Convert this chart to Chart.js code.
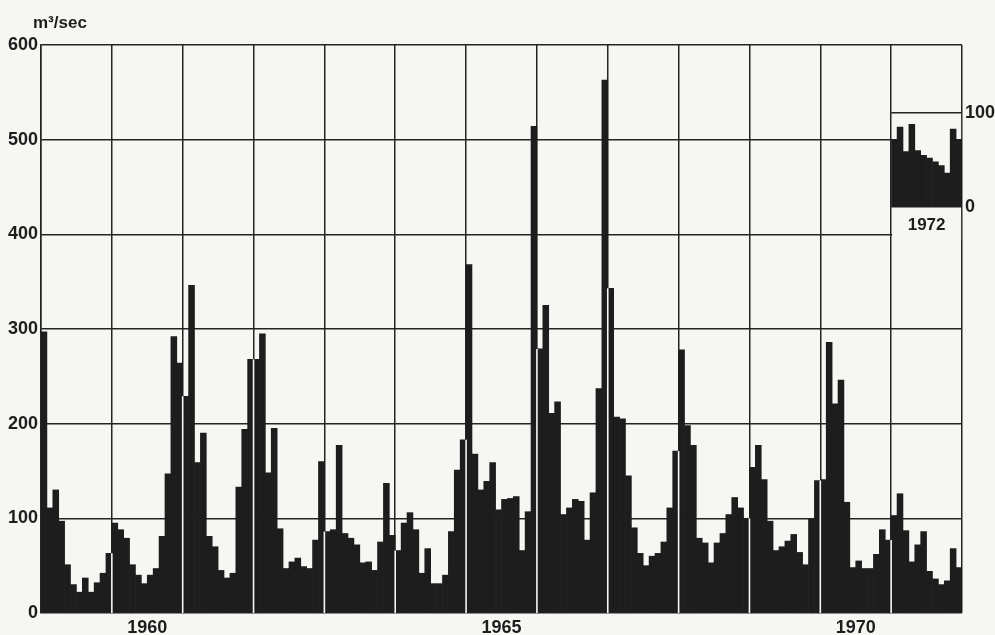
<!DOCTYPE html>
<html><head><meta charset="utf-8">
<script src="https://cdn.jsdelivr.net/npm/chart.js@4.4.1/dist/chart.umd.min.js"></script>
<style>
html,body{margin:0;padding:0;background:#f6f6f3;}
#wrap{position:relative;width:995px;height:635px;overflow:hidden;background:#f6f6f3;}
#main{position:absolute;left:0;top:0;}
#inset{position:absolute;left:880px;top:95px;}
</style></head><body>
<div id="wrap"><canvas id="main" width="995" height="635"></canvas><canvas id="inset" width="115" height="150"></canvas></div>
<script>
// ---- data (monthly mean discharge, m3/sec) ----
const years = [1959,1960,1961,1962,1963,1964,1965,1966,1967,1968,1969,1970,1971];
const monthNames = ['Jan','Feb','Mar','Apr','May','Jun','Jul','Aug','Sep','Oct','Nov','Dec'];
const q1959 = [297,111,130,97,51,30,22,37,22,32,42,63];
const q1960 = [95,88,79,51,40,31,40,47,81,147,292,264];
const q1961 = [229,346,159,190,81,70,45,37,42,133,194,268];
const q1962 = [268,295,148,195,89,47,54,58,49,47,77,160];
const q1963 = [86,88,177,84,79,72,53,54,45,75,137,82];
const q1964 = [66,95,106,88,42,68,31,31,40,86,151,183];
const q1965 = [368,168,130,139,159,109,120,121,123,66,107,514];
const q1966 = [279,325,211,223,104,111,120,118,77,127,237,563];
const q1967 = [343,207,205,145,90,63,50,60,63,75,111,171];
const q1968 = [278,198,177,79,74,53,74,84,104,122,111,100];
const q1969 = [154,177,141,97,66,70,76,83,64,51,99,140];
const q1970 = [141,286,221,246,117,48,55,47,47,62,88,77];
const q1971 = [103,126,87,54,72,86,44,36,30,34,68,48];
const insetYear = '1972';
const q1972 = [72,85,59,88,60,55,52,48,44,36,83,72];
const yMax = 600, yStep = 100;
const insetMax = 100;
const yearTickLabels = ['1960','1965','1970'];
const unitLabel = 'm\u00b3/sec';

// ---- styling ----
const BG = '#f6f6f3', INK = '#1d1d1d', GRID = '#242424';
const FONT = {family:"'Liberation Sans', Arial, sans-serif", size:18, weight:'bold'};

const values = [].concat(q1959,q1960,q1961,q1962,q1963,q1964,q1965,q1966,q1967,q1968,q1969,q1970,q1971);
const labels = [];
years.forEach(y => monthNames.forEach(m => labels.push(m + ' ' + y)));

const yearGapPlugin = {
  id: 'yearGaps',
  afterDatasetsDraw(chart) {
    const meta = chart.getDatasetMeta(0);
    const ys = chart.scales.y, ca = chart.chartArea, ctx = chart.ctx;
    ctx.save();
    ctx.strokeStyle = BG; ctx.lineWidth = 1.6;
    for (let i = 12; i < values.length; i += 12) {
      const x = (meta.data[i-1].x + meta.data[i].x) / 2;
      const top = ys.getPixelForValue(Math.min(values[i-1], values[i]));
      ctx.beginPath(); ctx.moveTo(x, ca.bottom); ctx.lineTo(x, top); ctx.stroke();
    }
    ctx.restore();
  },
  afterDraw(chart) {
    const ctx = chart.ctx;
    ctx.save();
    ctx.fillStyle = INK;
    ctx.font = "bold 17px 'Liberation Sans', Arial, sans-serif";
    ctx.textBaseline = 'alphabetic'; ctx.textAlign = 'left';
    ctx.fillText(unitLabel, 33, 28);
    ctx.restore();
  }
};

new Chart(document.getElementById('main'), {
  type: 'bar',
  data: { labels: labels, datasets: [{ data: values, backgroundColor: INK, borderWidth: 0, barPercentage: 1, categoryPercentage: 1 }] },
  options: {
    responsive: false, animation: false, devicePixelRatio: 1,
    layout: { padding: { top: 45, right: 33, left: 0, bottom: 0 } },
    plugins: { legend: { display: false }, tooltip: { enabled: false } },
    scales: {
      x: {
        type: 'category', offset: true,
        grid: { offset: true, drawTicks: false, lineWidth: 1.5,
          color: c => (c.type !== 'tick' || c.index % 12 === 0) ? GRID : 'rgba(0,0,0,0)' },
        border: { display: false },
        ticks: { display: false },
        afterFit: ax => { ax.height = 0; }
      },
      x2: {
        type: 'linear', position: 'bottom', min: 0, max: values.length, offset: false,
        grid: { display: false, drawTicks: false, offset: false }, border: { display: false },
        afterBuildTicks: ax => { ax.ticks = yearTickLabels.map(t => ({ value: (Number(t) - years[0]) * 12 + 6 })); },
        ticks: { autoSkip: false, maxRotation: 0, padding: 4, color: INK, font: FONT,
          callback: v => String(years[0] + (v - 6) / 12) },
        afterFit: ax => { ax.height = 22; }
      },
      y: {
        min: 0, max: yMax,
        ticks: { stepSize: yStep, padding: 3, color: INK, font: FONT },
        grid: { color: GRID, lineWidth: 1.5, drawTicks: false },
        border: { display: true, color: GRID, width: 1.5 },
        afterFit: ax => { ax.width = 41; }
      }
    }
  },
  plugins: [yearGapPlugin]
});

const insetPlugin = {
  id: 'insetBox',
  beforeDraw(chart) {
    const ctx = chart.ctx, ca = chart.chartArea;
    ctx.save(); ctx.fillStyle = BG;
    ctx.fillRect(ca.left + 0.9, ca.top, ca.right - ca.left - 1.8, ca.bottom - ca.top + 34);
    ctx.restore();
  },
  afterDraw(chart) {
    const ctx = chart.ctx, ca = chart.chartArea;
    ctx.save(); ctx.fillStyle = INK;
    ctx.font = "bold 17px 'Liberation Sans', Arial, sans-serif";
    ctx.textAlign = 'center'; ctx.textBaseline = 'middle';
    ctx.fillText(insetYear, (ca.left + ca.right) / 2, ca.bottom + 18);
    ctx.restore();
  }
};

new Chart(document.getElementById('inset'), {
  type: 'bar',
  data: { labels: monthNames, datasets: [{ data: q1972, backgroundColor: INK, borderWidth: 0, barPercentage: 1, categoryPercentage: 1 }] },
  options: {
    responsive: false, animation: false, devicePixelRatio: 1,
    layout: { padding: { top: 18, right: 0, left: 11.2, bottom: 0 } },
    plugins: { legend: { display: false }, tooltip: { enabled: false } },
    scales: {
      x: { type: 'category', offset: true, grid: { display: false, drawTicks: false }, border: { display: false },
        ticks: { display: false }, afterFit: ax => { ax.height = 38; } },
      y: { position: 'right', min: 0, max: insetMax,
        ticks: { stepSize: insetMax, padding: 3, color: INK, font: FONT },
        grid: { color: GRID, lineWidth: 1.5, drawTicks: false }, border: { display: false },
        afterFit: ax => { ax.width = 33; } }
    }
  },
  plugins: [insetPlugin]
});
</script>
</body></html>
